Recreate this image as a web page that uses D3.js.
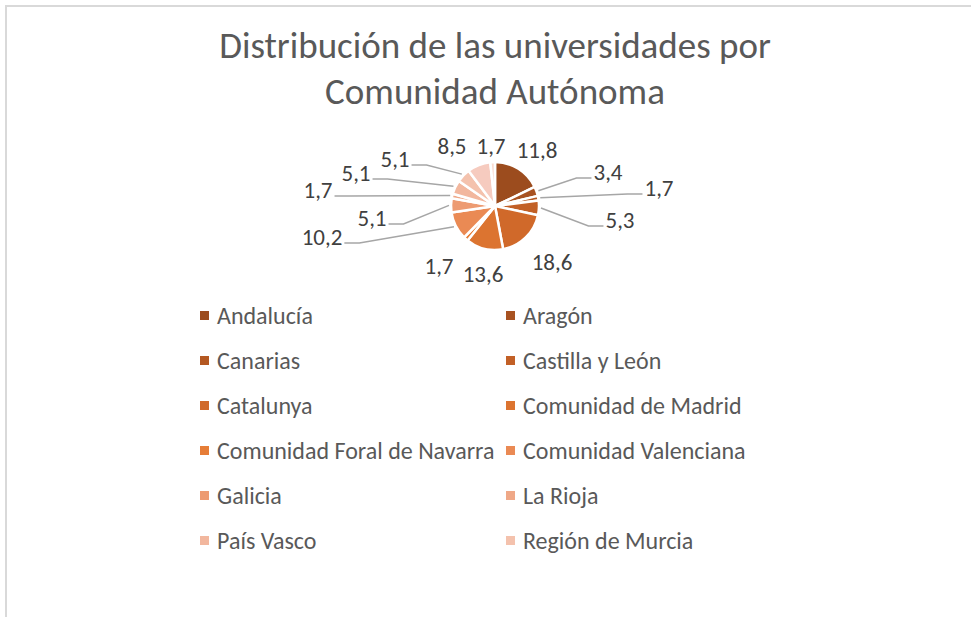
<!DOCTYPE html>
<html>
<head>
<meta charset="utf-8">
<script src="https://cdn.jsdelivr.net/npm/d3@7"></script>
<style>
  body { margin: 0; background: #fff; }
  text { font-family: Carlito, Lato, "Liberation Sans", sans-serif; }
</style>
</head>
<body>
<svg id="chart" width="971" height="617"></svg>
<script>
// legend entries (the chart only lists 12 of its 14 slices)
const categories = ['Andalucía', 'Aragón', 'Canarias', 'Castilla y León', 'Catalunya',
  'Comunidad de Madrid', 'Comunidad Foral de Navarra', 'Comunidad Valenciana',
  'Galicia', 'La Rioja', 'País Vasco', 'Región de Murcia'];
// slice sizes as drawn
const values = [17.8, 3.4, 1.7, 5.3, 18.6, 13.6, 1.7, 10.2, 5.1, 1.7, 5.1, 5.1, 8.5, 1.7];
// data labels as printed on the chart
const labelTexts = ['11,8', '3,4', '1,7', '5,3', '18,6', '13,6', '1,7', '10,2',
  '5,1', '1,7', '5,1', '5,1', '8,5', '1,7'];
const colors = ['#9c4c1e', '#a85221', '#b45822', '#c26026', '#d0692a', '#dc7430',
  '#e67d37', '#ea8a54', '#ed9b72', '#efa887', '#f2b79e', '#f4c2ad', '#f6cbbf', '#f9dcd2'];

const W = 971, H = 617;
const cx = 495, cy = 206, R = 44;

// hand placed label offsets from the pie centre, and whether a leader line is drawn
const labelLayout = [
  { dx: 42, dy: -56, lead: false }, { dx: 113, dy: -34, lead: true },
  { dx: 164, dy: -18, lead: true }, { dx: 125, dy: 14, lead: true },
  { dx: 57, dy: 56, lead: false }, { dx: -12, dy: 68, lead: false },
  { dx: -56, dy: 60, lead: false }, { dx: -173, dy: 31, lead: true },
  { dx: -123, dy: 12, lead: true }, { dx: -177, dy: -16, lead: true },
  { dx: -139, dy: -33, lead: true }, { dx: -100, dy: -47, lead: true },
  { dx: -43, dy: -60, lead: false }, { dx: -4, dy: -60, lead: false }
];

const svg = d3.select('#chart');

// chart frame (only top and left edges are visible in the crop)
svg.append('path')
  .attr('d', `M6,${H} V6 H${W}`)
  .attr('fill', 'none')
  .attr('stroke', '#d9d9d9')
  .attr('stroke-width', 2);

// title
const title = svg.append('text')
  .attr('text-anchor', 'middle')
  .attr('fill', '#595959')
  .style('font-size', '37px');
title.append('tspan').attr('x', cx).attr('y', 58).text('Distribución de las universidades por');
title.append('tspan').attr('x', cx).attr('y', 104).text('Comunidad Autónoma');

// pie
const pie = d3.pie().sort(null).value(d => d);
const arcs = pie(values);
const arc = d3.arc().innerRadius(0).outerRadius(R);

const g = svg.append('g').attr('transform', `translate(${cx},${cy})`);
g.selectAll('path.slice')
  .data(arcs)
  .join('path')
  .attr('class', 'slice')
  .attr('d', arc)
  .attr('fill', (d, i) => colors[i])
  .attr('stroke', '#fff')
  .attr('stroke-width', 2.5)
  .attr('stroke-linejoin', 'round');

// data labels
const labels = g.selectAll('text.lbl')
  .data(arcs)
  .join('text')
  .attr('class', 'lbl')
  .attr('x', (d, i) => labelLayout[i].dx)
  .attr('y', (d, i) => labelLayout[i].dy)
  .attr('dy', '0.35em')
  .attr('text-anchor', 'middle')
  .attr('fill', '#404040')
  .style('font-size', '23px')
  .text((d, i) => labelTexts[i]);

// leader lines
const edge = d3.arc().innerRadius(R + 2).outerRadius(R + 2);
labels.each(function (d, i) {
  const L = labelLayout[i];
  if (!L.lead) return;
  const bb = this.getBBox();
  const right = L.dx > 0;
  const ly = L.dy + 6;
  const endX = right ? bb.x - 2 : bb.x + bb.width + 2;
  const elbowX = right ? endX - 15 : endX + 15;
  const [sx, sy] = edge.centroid(d);
  g.insert('polyline', 'text')
    .attr('points', [[sx, sy], [elbowX, ly], [endX, ly]].map(p => p.join(',')).join(' '))
    .attr('fill', 'none')
    .attr('stroke', '#a6a6a6')
    .attr('stroke-width', 1.5);
});

// legend, two columns
const legend = svg.append('g');
const colX = d3.scalePoint().domain([0, 1]).range([200, 506]);
const rowY = d3.scaleLinear().domain([0, 5]).range([316, 541]);
const items = legend.selectAll('g')
  .data(categories)
  .join('g')
  .attr('transform', (d, i) => `translate(${colX(i % 2)},${rowY(Math.floor(i / 2))})`);
items.append('rect')
  .attr('x', 0).attr('y', -5)
  .attr('width', 9).attr('height', 9)
  .attr('fill', (d, i) => colors[i]);
items.append('text')
  .attr('x', 17)
  .attr('dy', '0.35em')
  .attr('fill', '#595959')
  .style('font-size', '24px')
  .text(d => d);
</script>
</body>
</html>
